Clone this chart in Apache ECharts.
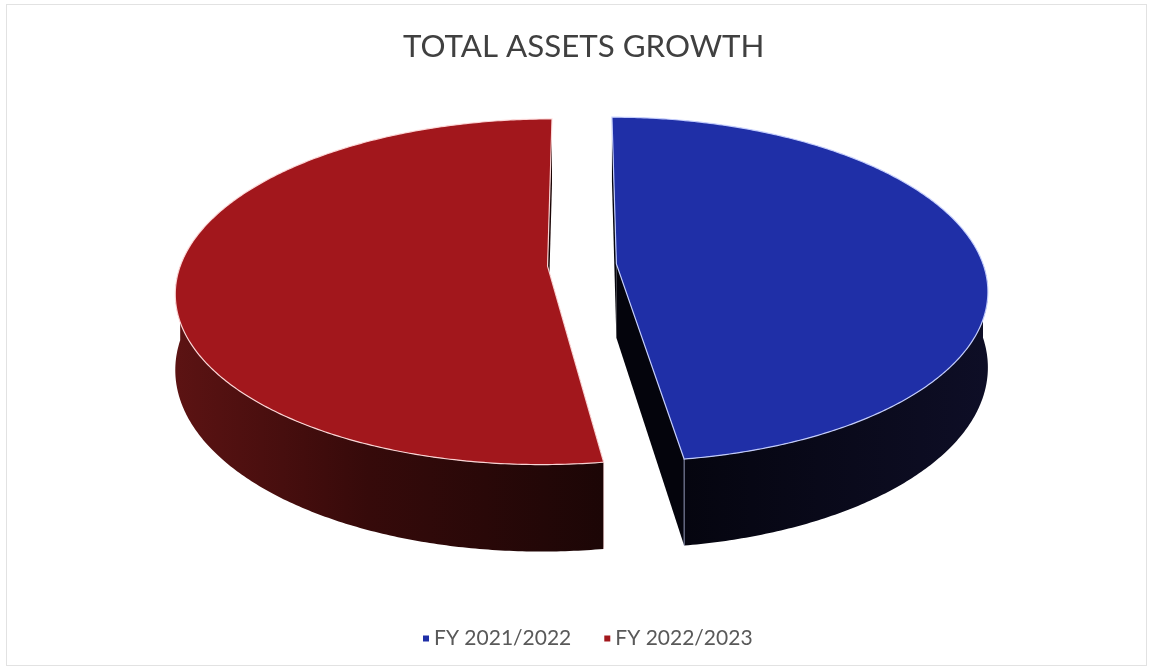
<!DOCTYPE html>
<html>
<head>
<meta charset="utf-8">
<script src="https://cdn.jsdelivr.net/npm/echarts@6/dist/echarts.min.js"></script>
<style>
  html, body { margin: 0; padding: 0; background: #ffffff; }
  #frame { position: absolute; left: 6px; top: 4px; width: 1141px; height: 662px; border: 1px solid #e2e2e2; box-sizing: border-box; }
  #chart { position: absolute; left: 0; top: 0; width: 1151px; height: 670px; }
</style>
</head>
<body>
<div id="frame"></div>
<div id="chart"></div>
<script>
const titleText = 'TOTAL ASSETS GROWTH';
const categories = ['FY 2021/2022', 'FY 2022/2023'];
const values = [47.7, 52.3];
const topColors = ['#1f2fa7', '#a2171c'];
const edgeColors = ['rgba(200,210,255,0.95)', 'rgba(255,220,220,0.95)'];

function sliceRange(i) {
  const total = values.reduce((a, b) => a + b, 0);
  let before = 0;
  for (let k = 0; k < i; k++) before += values[k];
  return [before / total * Math.PI * 2, (before + values[i]) / total * Math.PI * 2];
}

// perspective projection of the pie (ground plane u right, v toward viewer, z down)
const VIEW = { cx: 582, cy: 265, a: 367, b: 168.7, p: 0.148, depth: 74, explode: 0.094 };
function project(u, v, z) {
  const w = 1 - VIEW.p * v;
  return [VIEW.cx + VIEW.a * u / w, VIEW.cy + (VIEW.b * v + VIEW.depth * z) / w];
}

function wallFill(i) {
  return i === 1
    ? new echarts.graphic.LinearGradient(0, 0, 1, 0, [
        { offset: 0, color: '#5c1313' },
        { offset: 0.45, color: '#360a0a' },
        { offset: 1, color: '#1c0606' }])
    : new echarts.graphic.LinearGradient(0, 0, 1, 0, [
        { offset: 0, color: '#05050f' },
        { offset: 1, color: '#0e0e26' }]);
}

function makeRender(i) {
  return function (params, api) {
    const [a0, a1] = sliceRange(i);
    const mid = (a0 + a1) / 2;
    const uc = VIEW.explode * Math.sin(mid);
    const vc = -VIEW.explode * Math.cos(mid);
    const pt = (t, z) => project(uc + Math.sin(t), vc - Math.cos(t), z);
    const apex = (z) => project(uc, vc, z);
    const arc = (s, e, z) => {
      const n = Math.max(2, Math.ceil((e - s) / 0.01));
      const pts = [];
      for (let k = 0; k <= n; k++) pts.push(pt(s + (e - s) * k / n, z));
      return pts;
    };
    const children = [];
    // cut faces, back ones first
    const cuts = [a0, a1].sort((x, y) => (-Math.cos(x)) - (-Math.cos(y)));
    cuts.forEach(function (a) {
      children.push({
        type: 'polygon',
        shape: { points: [apex(0), pt(a, 0), pt(a, 1), apex(1)] },
        style: { fill: i === 1 ? '#1a0505' : '#04040c' }
      });
    });
    // outer wall, front half
    const w0 = Math.max(a0, Math.PI / 2), w1 = Math.min(a1, Math.PI * 1.5);
    if (w1 > w0) {
      children.push({
        type: 'polygon',
        shape: { points: arc(w0, w1, 0).concat(arc(w0, w1, 1).reverse()) },
        style: { fill: wallFill(i) }
      });
      [a0, a1].forEach(function (a) {
        if (a > Math.PI / 2 && a < Math.PI * 1.5) {
          children.push({
            type: 'polyline',
            shape: { points: [pt(a, 0), pt(a, 1)] },
            style: { stroke: edgeColors[i], lineWidth: 1, opacity: 0.7 }
          });
        }
      });
    }
    // top face
    children.push({
      type: 'polygon',
      shape: { points: [apex(0)].concat(arc(a0, a1, 0)) },
      style: { fill: topColors[i], stroke: edgeColors[i], lineWidth: 1.2 }
    });
    return { type: 'group', children: children };
  };
}

const chart = echarts.init(document.getElementById('chart'), null, { renderer: 'canvas' });
chart.setOption({
  backgroundColor: 'transparent',
  animation: false,
  title: {
    text: titleText,
    left: 398,
    top: 26,
    textStyle: { fontFamily: 'Lato', fontSize: 31.3, fontWeight: 'normal', color: '#404040' }
  },
  legend: {
    data: categories,
    top: 628,
    left: 423,
    padding: 0,
    icon: 'rect',
    itemWidth: 6,
    itemHeight: 6,
    itemGap: 33,
    textStyle: { fontFamily: 'Lato', fontSize: 21, color: '#595959' }
  },
  series: categories.map(function (name, i) {
    return {
      type: 'custom',
      name: name,
      coordinateSystem: 'none',
      itemStyle: { color: topColors[i] },
      data: [values[i]],
      renderItem: makeRender(i)
    };
  })
});
</script>
</body>
</html>
